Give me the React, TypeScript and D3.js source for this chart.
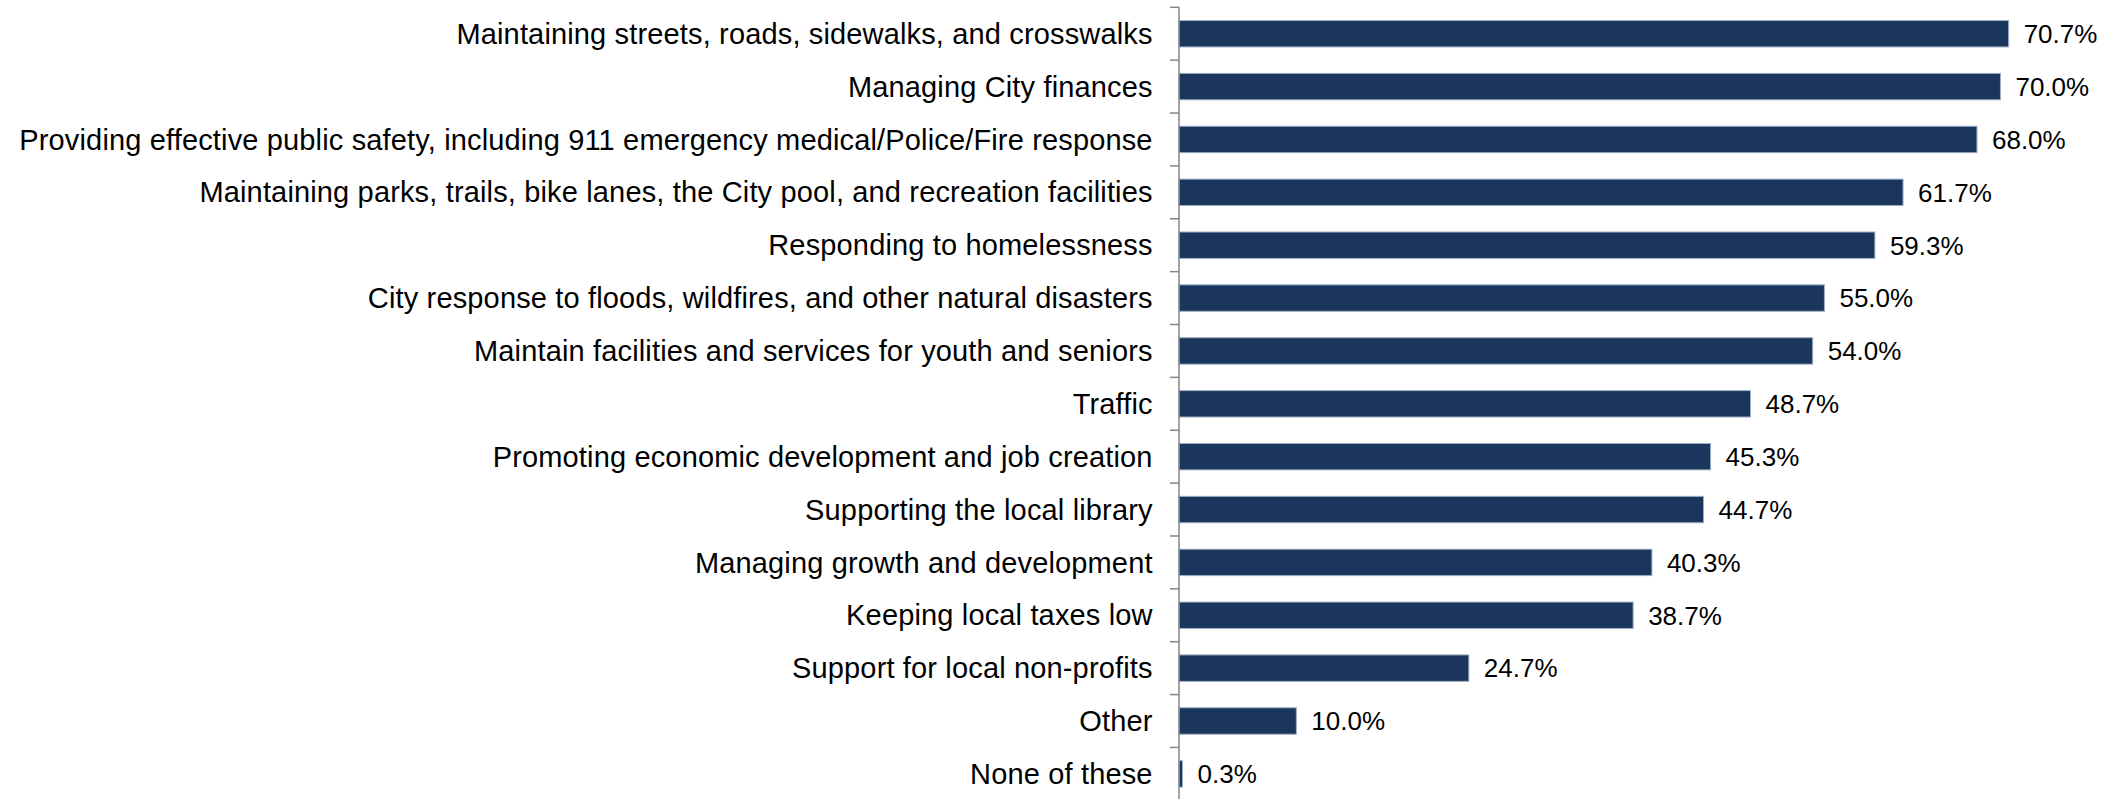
import React from "react";
import * as d3 from "d3";

const categories: string[] = [
  "Maintaining streets, roads, sidewalks, and crosswalks",
  "Managing City finances",
  "Providing effective public safety, including 911 emergency medical/Police/Fire response",
  "Maintaining parks, trails, bike lanes, the City pool, and recreation facilities",
  "Responding to homelessness",
  "City response to floods, wildfires, and other natural disasters",
  "Maintain facilities and services for youth and seniors",
  "Traffic",
  "Promoting economic development and job creation",
  "Supporting the local library",
  "Managing growth and development",
  "Keeping local taxes low",
  "Support for local non-profits",
  "Other",
  "None of these",
];

const values: number[] = [70.7, 70.0, 68.0, 61.7, 59.3, 55.0, 54.0, 48.7, 45.3, 44.7, 40.3, 38.7, 24.7, 10.0, 0.3];

const xDomain: [number, number] = [0, 80];

const W = 2116;
const H = 799;
const axisX = 1179;
const plotTop = 7.3;
const plotBottom = 800.3;

export default function App() {
  const x = d3.scaleLinear().domain(xDomain).range([axisX, axisX + 80 * 11.735]);
  const y = d3
    .scaleBand<string>()
    .domain(categories)
    .range([plotTop, plotBottom])
    .paddingInner(0.5)
    .paddingOuter(0.25);
  const step = y.step();
  const tickYs = d3.range(categories.length + 1).map((i) => plotTop + i * step);
  const fmt = (v: number) => v.toFixed(1) + "%";
  const catSize = 29;
  const catSpacing = 0.15;

  return (
    <svg
      width={W}
      height={H}
      style={{ position: "fixed", left: 0, top: 0, background: "#fff" }}
      fontFamily="'Liberation Sans', Arial, sans-serif"
    >
      {categories.map((c, i) => {
        const by = y(c)!;
        const bh = y.bandwidth();
        const cy = by + bh / 2;
        return (
          <g key={c}>
            <rect
              x={x(0)}
              y={by}
              width={Math.max(0, x(values[i]) - x(0))}
              height={bh}
              fill="#1b365d"
              stroke="#9fb0c6"
              strokeWidth={1}
            />
            <text
              x={1152.5 + catSpacing}
              y={cy + 0.35 * catSize}
              textAnchor="end"
              fontSize={catSize}
              letterSpacing={catSpacing}
              fill="#000"
            >
              {c}
            </text>
            <text
              x={x(values[i]) + 15}
              y={cy + 0.358 * 26}
              textAnchor="start"
              fontSize={26}
              fill="#000"
            >
              {fmt(values[i])}
            </text>
          </g>
        );
      })}
      <line x1={axisX} x2={axisX} y1={plotTop} y2={plotBottom} stroke="#868686" strokeWidth={1.5} />
      {tickYs.map((ty, i) => (
        <line key={i} x1={axisX - 9} x2={axisX} y1={ty} y2={ty} stroke="#868686" strokeWidth={1.5} />
      ))}
    </svg>
  );
}
